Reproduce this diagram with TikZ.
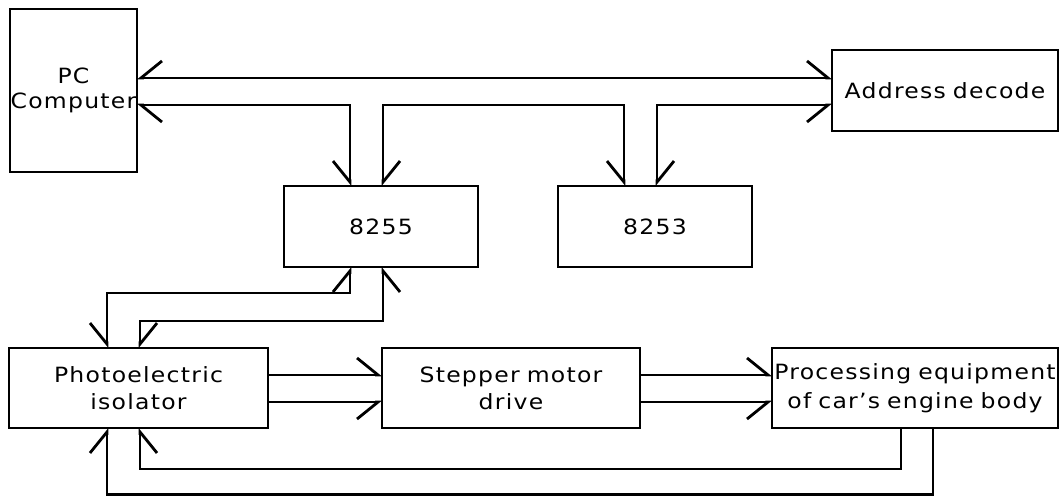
\documentclass[tikz,border=0pt]{standalone}
\usepackage{fontspec}
\setmainfont{DejaVu Sans}[LetterSpace=6, FakeStretch=1.12, WordSpace=1.8]
\usetikzlibrary{arrows.meta}
\tikzset{
  barbL/.tip={Straight Barb[harpoon,length=21pt,width=34pt]},
  barbR/.tip={Straight Barb[harpoon,swap,length=21pt,width=34pt]},
  blk/.style={draw, line width=2.9pt, inner sep=0pt, outer sep=0pt, align=center,
    font=\fontsize{21pt}{27pt}\selectfont},
  conn/.style={line width=2.8pt},
}
\begin{document}
\begin{tikzpicture}[x=1pt,y=-1pt]
\useasboundingbox (0,0) rectangle (1061,496);
% boxes
\node[blk, text width=127pt, minimum height=163pt, font=\fontsize{21pt}{25pt}\selectfont] (pc) at (73.5,90.5) {PC\\Computer};
\node[blk, text width=226pt, minimum height=81pt] (addr) at (945,90.5) {Address decode};
\node[blk, text width=194pt, minimum height=81pt] (s55) at (381,226.5) {8255};
\node[blk, text width=194pt, minimum height=81pt] (s53) at (655,226.5) {8253};
\node[blk, text width=259pt, minimum height=80pt] (photo) at (138.5,388) {Photoelectric\\isolator};
\node[blk, text width=258pt, minimum height=80pt] (step) at (511,388) {Stepper motor\hspace*{20pt}\\drive};
\node[blk, text width=286pt, minimum height=80pt, font=\fontsize{21pt}{29pt}\selectfont] (proc) at (915,388) {Processing equipment\\of car's engine body};
% connectors
\draw[conn, barbR-barbL] (pc.east |- 0,78) -- (addr.west |- 0,78);
\draw[conn, barbL-barbR] (pc.east |- 0,105) -- (350,105) -- (s55.north -| 350,0);
\draw[conn, barbL-barbR] (s55.north -| 383,0) -- (383,105) -- (624,105) -- (s53.north -| 624,0);
\draw[conn, barbL-barbR] (s53.north -| 657,0) -- (657,105) -- (addr.west |- 0,105);
\draw[conn, barbL-barbR] (s55.south -| 350,0) -- (350,293) -- (107,293) -- (photo.north -| 107,0);
\draw[conn, barbR-barbL] (s55.south -| 383,0) -- (383,321) -- (140,321) -- (photo.north -| 140,0);
\draw[conn, -barbL] (photo.east |- 0,375) -- (step.west |- 0,375);
\draw[conn, -barbR] (photo.east |- 0,402) -- (step.west |- 0,402);
\draw[conn, -barbL] (step.east |- 0,375) -- (proc.west |- 0,375);
\draw[conn, -barbR] (step.east |- 0,402) -- (proc.west |- 0,402);
\draw[conn, -barbR] (proc.south -| 901,0) -- (901,469) -- (140,469) -- (photo.south -| 140,0);
\draw[conn, -barbL] (proc.south -| 933,0) -- (933,494.5) -- (107,494.5) -- (photo.south -| 107,0);
\end{tikzpicture}
\end{document}
